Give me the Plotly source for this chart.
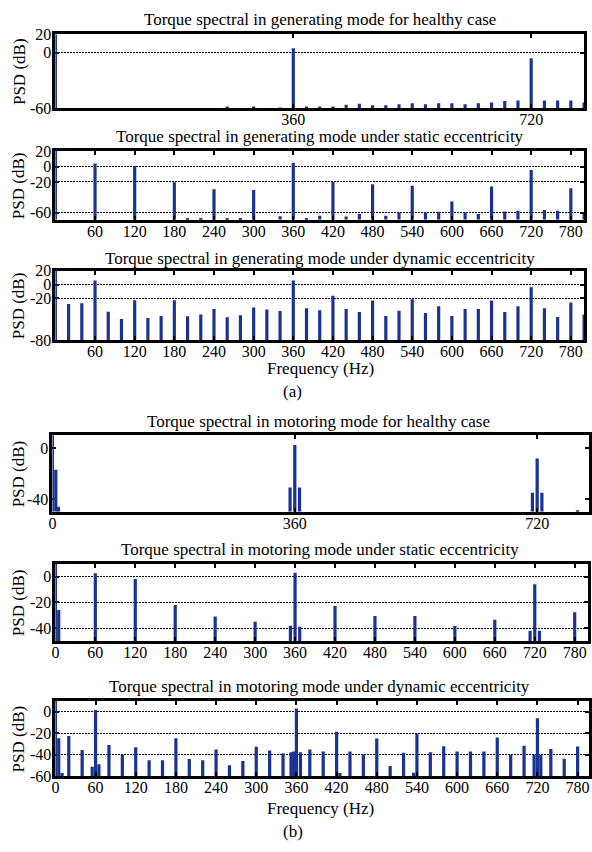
import plotly.graph_objects as go

# ---------------------------------------------------------------------------
# Spectral lines (frequency in Hz, PSD in dB)
# ---------------------------------------------------------------------------
GEN_HEALTHY_F = [0, 260, 300, 340, 360, 380, 400, 420, 440, 460, 480, 500, 520,
                 540, 560, 580, 600, 620, 640, 660, 680, 700, 720, 740, 760, 780, 800]
GEN_HEALTHY_DB = [25, -59, -58.5, -59.5, 5, -58.5, -59, -58.5, -56.5, -55.5, -57, -57, -56,
                  -55, -56, -55, -55, -56, -55, -54, -52.5, -52, -6, -52, -52, -52, -54]

GEN_STATIC_F = [0, 60, 120, 180, 200, 220, 240, 260, 280, 300, 340, 360, 380, 400, 420,
                440, 460, 480, 500, 520, 540, 560, 580, 600, 620, 640, 660, 680, 700,
                720, 740, 760, 780, 800]
GEN_STATIC_DB = [25, 4, 0.5, -20.5, -68, -68, -29.6, -68, -68, -30.4, -64.6, 5, -66.7, -63.8, -20,
                 -65, -61.7, -23, -63.8, -59.6, -25, -59.6, -58.8, -45.4, -59.6, -61.7, -25.8, -58.3, -57.5,
                 -4.6, -56.3, -57.5, -28.3, -61.7]

GEN_DYNAMIC_F = [0, 20, 40, 60, 80, 100, 120, 140, 160, 180, 200, 220, 240, 260, 280, 300,
                 320, 340, 360, 380, 400, 420, 440, 460, 480, 500, 520, 540, 560, 580, 600,
                 620, 640, 660, 680, 700, 720, 740, 760, 780, 800]
GEN_DYNAMIC_DB = [25, -28, -27, 5.7, -39, -49.5, -22.4, -48, -45, -22.4, -45.7, -43, -35, -47, -44, -33,
                  -36, -38, 6, -34, -37, -16, -35, -39.5, -23, -45, -37.6, -21, -41, -31, -45,
                  -35, -35, -23, -39.5, -31, -4, -34, -46.7, -25.7, -43]

MOT_HEALTHY_F = [0, 5, 9, 353, 360, 367, 713, 720, 727, 780]
MOT_HEALTHY_DB = [15, -17, -46, -31, 2.4, -31, -35, -8.3, -35, -49]

MOT_STATIC_F = [0, 5, 60, 120, 180, 240, 300, 353, 360, 367, 420, 480, 540, 600, 660,
                713, 720, 727, 780]
MOT_STATIC_DB = [15, -25.8, 2.6, -1.8, -22, -31, -35, -38, 3, -38.8, -22.7, -30.5, -30.5, -38.2, -33.5,
                 -42, -6, -42, -27.6]

MOT_DYNAMIC_F = [0, 5, 10, 20, 40, 55, 60, 65, 80, 100, 120, 140, 160, 180, 200, 220, 240,
                 260, 280, 300, 320, 340, 352, 356, 360, 366, 380, 400, 420, 425, 440, 460,
                 480, 500, 520, 535, 540, 560, 580, 600, 620, 640, 660, 680, 700, 715, 720,
                 725, 740, 760, 780]
MOT_DYNAMIC_DB = [15, -24.7, -57, -22.6, -35.5, -51, 1.5, -48.8, -31, -40, -33, -45, -45, -24.7, -44, -45, -35.2,
                  -49.7, -45.8, -32.5, -36, -38.5, -37.6, -37, 3, -37.6, -35, -37, -18.7, -57, -37, -39.8,
                  -25, -50.3, -38, -56.6, -20.5, -37.6, -32, -37, -37, -37, -24, -40, -31.6, -39.8, -6,
                  -40, -34.6, -43.7, -32.2]

TITLES = [
    "Torque spectral in generating mode for healthy case",
    "Torque spectral in generating mode under static eccentricity",
    "Torque spectral in generating mode under dynamic eccentricity",
    "Torque spectral in motoring mode for healthy case",
    "Torque spectral in motoring mode under static eccentricity",
    "Torque spectral in motoring mode under dynamic eccentricity",
]

X_TICKS_HALF = [360, 720]
X_TICKS_60 = [60, 120, 180, 240, 300, 360, 420, 480, 540, 600, 660, 720, 780]
X_TICKS_HALF_0 = [0, 360, 720]
X_TICKS_60_0 = [0, 60, 120, 180, 240, 300, 360, 420, 480, 540, 600, 660, 720, 780]

Y_TICKS = [
    [20, 0, -60],
    [20, 0, -20, -60],
    [20, 0, -20, -80],
    [0, -40],
    [0, -20, -40],
    [0, -20, -40, -60],
]

# ---------------------------------------------------------------------------
# Page geometry (pixels) and styling
# ---------------------------------------------------------------------------
W, H = 592, 852
BLUE = "#1a3291"
FONT = "Liberation Serif, Times New Roman, serif"


def fx(p):
    return p / W


def fy(p):
    return 1 - p / H


panels = [
    dict(f=GEN_HEALTHY_F, db=GEN_HEALTHY_DB, xt=X_TICKS_HALF, yr=[-60, 20],
         box=(52, 587, 27, 102), xr=[0, 800], grid=True, title_y=12),
    dict(f=GEN_STATIC_F, db=GEN_STATIC_DB, xt=X_TICKS_60, yr=[-69, 20],
         box=(52, 587, 146, 216), xr=[0, 800], grid=True, title_y=131),
    dict(f=GEN_DYNAMIC_F, db=GEN_DYNAMIC_DB, xt=X_TICKS_60, yr=[-80, 20],
         box=(52, 587, 268, 339), xr=[0, 800], grid=True, title_y=256),
    dict(f=MOT_HEALTHY_F, db=MOT_HEALTHY_DB, xt=X_TICKS_HALF_0, yr=[-50, 10],
         box=(49, 592, 436, 514), xr=[0, 797], grid=False, title_y=422),
    dict(f=MOT_STATIC_F, db=MOT_STATIC_DB, xt=X_TICKS_60_0, yr=[-50, 10],
         box=(52, 591, 567, 646), xr=[0, 800], grid=True, title_y=553),
    dict(f=MOT_DYNAMIC_F, db=MOT_DYNAMIC_DB, xt=X_TICKS_60_0, yr=[-60, 10],
         box=(52, 592, 707, 784), xr=[0, 797], grid=True, title_y=692),
]

fig = go.Figure()
layout = {}
annotations = []

for i, p in enumerate(panels, start=1):
    suffix = "" if i == 1 else str(i)
    xa, ya = "x" + suffix, "y" + suffix
    floor = p["yr"][0]
    x0, x1, y0, y1 = p["box"]

    fig.add_trace(go.Bar(
        x=p["f"], y=[v - floor for v in p["db"]], base=floor, width=4.8,
        marker=dict(color=BLUE, line=dict(width=0)),
        xaxis=xa, yaxis=ya, showlegend=False, hoverinfo="skip",
    ))

    common = dict(
        ticks="inside", ticklen=4, tickwidth=2, tickcolor="black",
        showline=True, linewidth=2.8, linecolor="black", mirror="allticks",
        zeroline=False, tickmode="array", fixedrange=True,
    )
    layout["xaxis" + suffix] = dict(
        common, domain=[fx(x0), min(fx(x1), 1.0)], range=p["xr"], anchor=ya,
        tickvals=p["xt"], ticktext=[str(v) for v in p["xt"]], showgrid=False,
        ticklabelstandoff=-5,
        tickfont=dict(family=FONT, size=16, color="black"),
    )
    layout["yaxis" + suffix] = dict(
        common, domain=[fy(y1), fy(y0)], range=p["yr"], anchor=xa,
        tickvals=Y_TICKS[i - 1], ticktext=[str(v) for v in Y_TICKS[i - 1]],
        showgrid=p["grid"], gridcolor="black", griddash="1.5px,1.5px", gridwidth=1.2,
        layer="below traces", ticklabelstandoff=-2,
        tickfont=dict(family=FONT, size=16, color="black"),
    )

    annotations.append(dict(
        text=TITLES[i - 1], xref="paper", yref="paper",
        x=fx((x0 + min(x1, 587)) / 2), y=fy(p["title_y"]),
        xanchor="center", yanchor="middle", showarrow=False,
        font=dict(family=FONT, size=17, color="black"),
    ))
    annotations.append(dict(
        text="PSD (dB)", xref="paper", yref="paper",
        x=fx(15), y=fy((y0 + y1) / 2), textangle=-90,
        xanchor="center", yanchor="middle", showarrow=False,
        font=dict(family=FONT, size=17, color="black"),
    ))

for text, ypx, xpx in [("Frequency (Hz)", 368, 320), ("(a)", 391, 292),
                       ("Frequency (Hz)", 817, 320), ("(b)", 840, 292)]:
    annotations.append(dict(
        text=text, xref="paper", yref="paper", x=fx(xpx), y=fy(ypx),
        xanchor="center", yanchor="middle", showarrow=False,
        font=dict(family=FONT, size=17, color="black"),
    ))

fig.update_layout(
    width=W, height=H, margin=dict(l=0, r=0, t=0, b=0),
    paper_bgcolor="white", plot_bgcolor="white",
    barmode="overlay", annotations=annotations, **layout,
)

fig.write_html("out.html")
